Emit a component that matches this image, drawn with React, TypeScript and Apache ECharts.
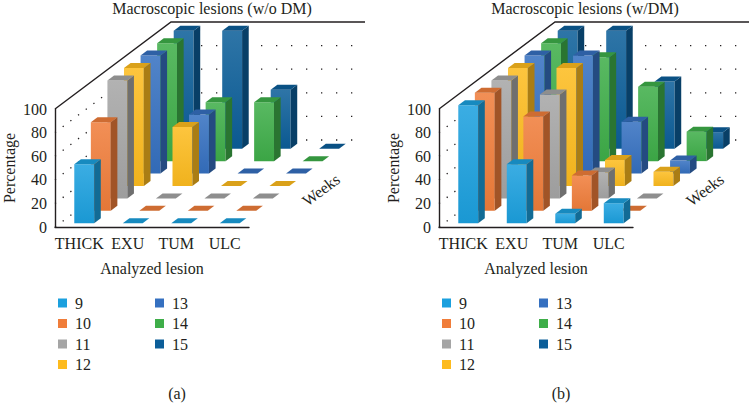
import React, { useEffect, useRef } from 'react';
import * as echarts from 'echarts';

// ---------- data ----------
const categories = ['THICK', 'EXU', 'TUM', 'ULC'];
const weeks = ['9', '10', '11', '12', '13', '14', '15'];
const yTicks = [0, 20, 40, 60, 80, 100];
const weekColors = ['#1BA0DE', '#F07D3A', '#A5A5A5', '#FDBB1E', '#3570C0', '#3EAE49', '#0C5E99'];

// (a) Macroscopic lesions (w/o DM): values per week over THICK, EXU, TUM, ULC
const woDmWeek9 = [50, 0, 0, 0];
const woDmWeek10 = [75, 0, 0, 0];
const woDmWeek11 = [100, 0, 0, 0];
const woDmWeek12 = [100, 50, 0, 0];
const woDmWeek13 = [100, 50, 0, 0];
const woDmWeek14 = [100, 50, 50, 0];
const woDmWeek15 = [100, 100, 50, 0];

// (b) Macroscopic lesions (w/DM)
const wDmWeek9 = [100, 50, 8, 17];
const wDmWeek10 = [100, 80, 30, 0];
const wDmWeek11 = [100, 88, 22, 0];
const wDmWeek12 = [100, 100, 22, 12];
const wDmWeek13 = [100, 100, 44, 11];
const wDmWeek14 = [100, 88, 63, 25];
const wDmWeek15 = [100, 100, 57, 14];

const panelTitles = ['Macroscopic lesions (w/o DM)', 'Macroscopic lesions (w/DM)'];
const panelLabels = ['(a)', '(b)'];
const yName = 'Percentage';
const xName = 'Analyzed lesion';
const depthName = 'Weeks';

const panelData = [
  [woDmWeek9, woDmWeek10, woDmWeek11, woDmWeek12, woDmWeek13, woDmWeek14, woDmWeek15],
  [wDmWeek9, wDmWeek10, wDmWeek11, wDmWeek12, wDmWeek13, wDmWeek14, wDmWeek15],
];

// ---------- layout / style ----------
const FONT = "'Liberation Serif', 'Times New Roman', serif";
const INK = '#231f20';
const PANEL_LEFT = [55, 439];
const GRID_TOP = 109;
const GRID_W = 194;
const GRID_H = 118;
const DX = 116 / 7;
const DY = 87 / 7;

function hexToRgb(h: string) {
  const n = parseInt(h.slice(1), 16);
  return [(n >> 16) & 255, (n >> 8) & 255, n & 255];
}
function mix(a: string, b: string, t: number) {
  const A = hexToRgb(a);
  const B = hexToRgb(b);
  const r = A.map((v, i) => Math.round(v + (B[i] - v) * t));
  return `rgb(${r[0]},${r[1]},${r[2]})`;
}

function makeBarRenderer(row: number, color: string) {
  const frontTop = mix(color, '#ffffff', 0.14);
  const frontBottom = mix(color, '#000000', 0.05);
  const topC = mix(color, '#000000', 0.14);
  const sideC = mix(color, '#000000', 0.33);
  return (params: any, api: any) => {
    const c = api.value(0);
    const v = api.value(1);
    const base = api.coord([c, 0]);
    const top = api.coord([c, v]);
    const band = api.size([1, 0])[0];
    const w = band * 0.41;
    const f = row + 0.3;
    const ox = f * DX;
    const oy = -f * DY;
    const sx = 0.4 * DX;
    const sy = -0.4 * DY;
    const x0 = base[0] - w / 2 + ox;
    const x1 = x0 + w;
    const yb = base[1] + oy;
    const yt = top[1] + oy;
    const children: any[] = [];
    if (yb - yt > 0.5) {
      children.push({
        type: 'rect',
        shape: { x: x0, y: yt, width: w, height: yb - yt },
        style: {
          fill: new echarts.graphic.LinearGradient(0, 0, 0, 1, [
            { offset: 0, color: frontTop },
            { offset: 1, color: frontBottom },
          ]),
        },
      });
      children.push({
        type: 'polygon',
        shape: { points: [[x1, yb], [x1 + sx, yb + sy], [x1 + sx, yt + sy], [x1, yt]] },
        style: { fill: sideC },
      });
    }
    children.push({
      type: 'polygon',
      shape: { points: [[x0, yt], [x1, yt], [x1 + sx, yt + sy], [x0 + sx, yt + sy]] },
      style: { fill: topC },
    });
    return { type: 'group', children };
  };
}

function wallRenderer(params: any, api: any) {
  const cs = params.coordSys;
  const L = cs.x;
  const T = cs.y;
  const W = cs.width;
  const DX7 = DX * weeks.length;
  const DY7 = DY * weeks.length;
  const children: any[] = [];
  yTicks.slice(0, -1).forEach((v) => {
    const y = api.coord([0, v])[1];
    children.push({
      type: 'line',
      shape: { x1: L, y1: y, x2: L + DX7, y2: y - DY7 },
      style: { stroke: INK, lineWidth: 1.3, lineDash: [1.3, 8.3] },
    });
    children.push({
      type: 'line',
      shape: { x1: L + DX7, y1: y - DY7, x2: L + DX7 + W, y2: y - DY7 },
      style: { stroke: INK, lineWidth: 1.3, lineDash: [1.3, 13.7] },
    });
  });
  children.push({
    type: 'polyline',
    shape: { points: [[L, T], [L + DX7, T - DY7], [L + DX7 + W, T - DY7]] },
    style: { stroke: INK, lineWidth: 1.4, fill: null },
  });
  return { type: 'group', children };
}

function buildOption() {
  const textStyle = { fontFamily: FONT, fontSize: 16, color: INK };
  const grid = PANEL_LEFT.map((left) => ({ left, top: GRID_TOP, width: GRID_W, height: GRID_H }));
  const xAxis = PANEL_LEFT.map((_, p) => ({
    type: 'category',
    gridIndex: p,
    data: categories,
    axisLine: { lineStyle: { color: INK, width: 1.4 } },
    axisTick: { show: false },
    axisLabel: { ...textStyle, margin: 8, interval: 0 },
    name: xName,
    nameLocation: 'middle',
    nameGap: 33,
    nameTextStyle: textStyle,
    splitLine: { show: false },
  }));
  const yAxis = PANEL_LEFT.map((_, p) => ({
    type: 'value',
    gridIndex: p,
    min: 0,
    max: 100,
    interval: 20,
    axisLine: { show: true, lineStyle: { color: INK, width: 1.4 } },
    axisTick: { show: false },
    axisLabel: { ...textStyle, margin: 8 },
    splitLine: { show: false },
    name: yName,
    nameLocation: 'middle',
    nameGap: 38,
    nameTextStyle: textStyle,
  }));

  const series: any[] = [];
  PANEL_LEFT.forEach((_, p) => {
    series.push({
      type: 'custom',
      name: 'walls-' + p,
      xAxisIndex: p,
      yAxisIndex: p,
      z: 1,
      silent: true,
      clip: false,
      data: [[0, 0]],
      renderItem: wallRenderer,
    });
    weeks.forEach((wk, r) => {
      series.push({
        type: 'custom',
        name: wk,
        xAxisIndex: p,
        yAxisIndex: p,
        z: 20 - r,
        clip: false,
        itemStyle: { color: weekColors[r] },
        data: panelData[p][r].map((v, i) => [i, v]),
        renderItem: makeBarRenderer(r, weekColors[r]),
      });
    });
  });

  // legend: two columns per panel (weeks 9-12, weeks 13-15)
  const legendText = { fontFamily: FONT, fontSize: 16, color: INK, padding: [0, 0, 0, 3] };
  const legend: any[] = [];
  PANEL_LEFT.forEach((left) => {
    const base = {
      orient: 'vertical',
      top: 290,
      icon: 'rect',
      itemWidth: 9,
      itemHeight: 9,
      itemGap: 4.5,
      selectedMode: false,
      textStyle: legendText,
    };
    legend.push({ ...base, left: left - 2, data: weeks.slice(0, 4) });
    legend.push({ ...base, left: left + 95, data: weeks.slice(4) });
  });

  const title = panelTitles.map((t, p) => ({
    text: t,
    left: [212, 585][p],
    top: 0,
    padding: 0,
    textAlign: 'center',
    textStyle: { ...textStyle, fontWeight: 'normal' },
  }));

  const graphic: any[] = [];
  PANEL_LEFT.forEach((left, p) => {
    graphic.push({
      type: 'text',
      x: left + 266,
      y: 190,
      rotation: Math.atan2(DY, DX),
      style: { text: depthName, font: `16px ${FONT}`, fill: INK, align: 'center', verticalAlign: 'middle' },
    });
    graphic.push({
      type: 'text',
      x: left + 122,
      y: 393,
      style: { text: panelLabels[p], font: `16px ${FONT}`, fill: INK, align: 'center', verticalAlign: 'middle' },
    });
  });

  return {
    animation: false,
    backgroundColor: '#ffffff',
    textStyle: { fontFamily: FONT },
    title,
    grid,
    xAxis,
    yAxis,
    legend,
    series,
    graphic,
  };
}

export default function App() {
  const ref = useRef<HTMLDivElement>(null);
  useEffect(() => {
    const chart = echarts.init(ref.current as HTMLDivElement, null, { renderer: 'svg' });
    chart.setOption(buildOption() as any);
    return () => chart.dispose();
  }, []);
  return (
    <div
      ref={ref}
      style={{ position: 'fixed', left: 0, top: 0, width: 750, height: 417, background: '#fff' }}
    />
  );
}
